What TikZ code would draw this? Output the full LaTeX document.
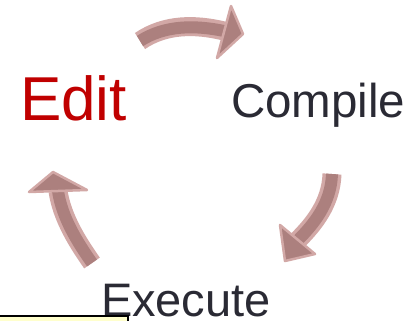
\documentclass[tikz,border=0pt]{standalone}
\usepackage{fontspec}
\setmainfont{Liberation Sans}
\begin{document}
\begin{tikzpicture}[x=1pt,y=-1pt,
  lbl/.style={anchor=base west,inner sep=0pt,outer sep=0pt},
  bodyout/.style={line width=19pt,draw=arrowlight,line cap=butt},
  bodyin/.style={line width=12pt,draw=arrowmid,line cap=butt},
  headfill/.style={fill=arrowmid,draw=arrowlight,line width=2.5pt,line join=round}]
\definecolor{arrowlight}{RGB}{210,168,166}
\definecolor{arrowmid}{RGB}{172,128,126}
\definecolor{editred}{RGB}{192,0,0}
\definecolor{txtdark}{RGB}{42,42,52}
\definecolor{noteyellow}{RGB}{255,255,204}
\useasboundingbox (0,0) rectangle (420,321);
\fill[white] (0,0) rectangle (420,321);
% top arrow
\coordinate (t0) at (140,41);
\coordinate (t1) at (224,31);
\draw[bodyout] (t0) .. controls (165,24) and (195,24) .. (t1);
\draw[bodyin] (t0) .. controls (165,25) and (195,25) .. (t1);
\filldraw[headfill] (231,6) -- (243,34) -- (217,58) -- cycle;
% right arrow
\coordinate (r0) at (332,174);
\coordinate (r1) at (298,240);
\draw[bodyout] (r0) .. controls (331,203) and (314,224) .. (r1);
\draw[bodyin] (r0) .. controls (331,203) and (314,224) .. (r1);
\filldraw[headfill] (280,225) -- (285,261) -- (315,254) -- cycle;
% left arrow
\coordinate (l0) at (92,263);
\coordinate (l1) at (58,191);
\draw[bodyout] (l0) .. controls (78,243) and (62,218) .. (l1);
\draw[bodyin] (l0) .. controls (78,243) and (62,218) .. (l1);
\filldraw[headfill] (29,192) -- (53,172) -- (87,190) -- cycle;
% labels
\node[lbl,text=editred] (edit) at (20,120) {\fontsize{62}{62}\selectfont Edit};
\node[lbl,text=txtdark] (compile) at (231,117) {\fontsize{47.5}{47.5}\selectfont Compile};
\node[lbl,text=txtdark] (execute) at (101,316) {\fontsize{47}{47}\selectfont Execute};
% yellow note box
\fill[noteyellow] (0,316) rectangle (128,322);
\draw[black,line width=1.5pt] (0,316) -- (128,316) -- (128,322);
\end{tikzpicture}
\end{document}
